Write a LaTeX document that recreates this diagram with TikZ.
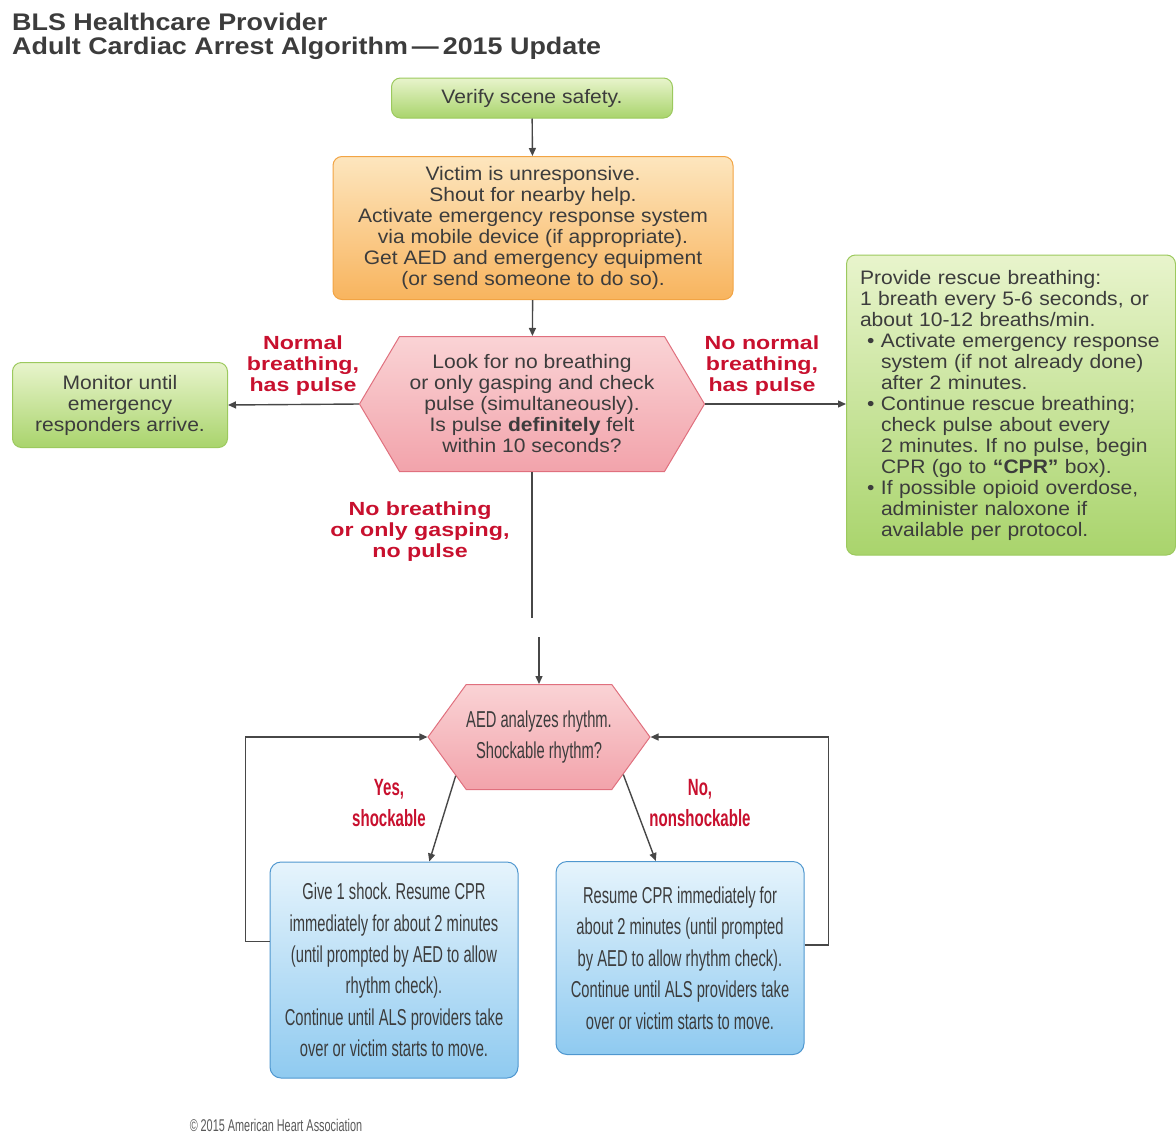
\documentclass[tikz,border=0pt]{standalone}
\usepackage{fontspec}
\setmainfont{Liberation Sans}
\newfontfamily\bodyfont[FakeStretch=1.08]{Liberation Sans}
\newfontfamily\titlefont[FakeStretch=1.12]{Liberation Sans}
\newfontfamily\redfont[FakeStretch=1.22]{Liberation Sans}
\newfontfamily\narrowfont[FakeStretch=0.64]{Liberation Sans}
\usetikzlibrary{arrows.meta, shapes.symbols}

\definecolor{greentop}{HTML}{E8F4CC}
\definecolor{greenbot}{HTML}{A9D46C}
\definecolor{greenline}{HTML}{9CC95E}
\definecolor{orangetop}{HTML}{FDE6BE}
\definecolor{orangebot}{HTML}{F8B45E}
\definecolor{orangeline}{HTML}{F2A444}
\definecolor{pinktop}{HTML}{FAD3D5}
\definecolor{pinkbot}{HTML}{F2A3AB}
\definecolor{pinkline}{HTML}{E0707E}
\definecolor{bluetop}{HTML}{E6F4FC}
\definecolor{bluebot}{HTML}{8FCAF0}
\definecolor{blueline}{HTML}{4F97CF}
\definecolor{redtext}{HTML}{C8102E}
\definecolor{textgray}{HTML}{3C3C3C}
\definecolor{arrowgray}{HTML}{474747}

\begin{document}
\frenchspacing
\begin{tikzpicture}[
        x=1pt, y=-1pt,
        >={Triangle[length=8pt, width=7pt]},
        flow/.style={->, draw=arrowgray, line width=1.4pt},
        plainline/.style={draw=arrowgray, line width=1.4pt},
        bodytext/.style={text=textgray, font=\bodyfont\fontsize{19.5}{21}\selectfont},
        narrowtext/.style={text=textgray, font=\narrowfont\fontsize{23}{31.4}\selectfont},
        greenbox/.style={bodytext, draw=greenline, line width=1pt, rounded corners=9pt,
            top color=greentop, bottom color=greenbot, align=center},
        orangebox/.style={bodytext, draw=orangeline, line width=1pt, rounded corners=9pt,
            top color=orangetop, bottom color=orangebot, align=center},
        bluebox/.style={narrowtext, draw=blueline, line width=1pt, rounded corners=11pt,
            top color=bluetop, bottom color=bluebot, align=center},
        hexbox/.style={signal, signal to=west and east, draw=pinkline, line width=1pt,
            top color=pinktop, bottom color=pinkbot, align=center, inner sep=0pt},
        redlabel/.style={text=redtext, align=center, font=\redfont\bfseries\fontsize{19}{21}\selectfont},
        rednarrow/.style={text=redtext, align=center, font=\narrowfont\bfseries\fontsize{23.5}{31}\selectfont},
        titletext/.style={anchor=west, inner sep=0pt, text=textgray, font=\titlefont\bfseries\fontsize{24}{26}\selectfont},
    ]
    \useasboundingbox (0,0) rectangle (1176,1133);

    \node[titletext] (title1) at (12,22) {BLS Healthcare Provider};
    \node[titletext] (title2) at (12,48) {Adult Cardiac Arrest Algorithm\,—\,2015 Update};

    \node[greenbox, minimum width=281pt, minimum height=40pt] (verify) at (532,98) {Verify scene safety.};

    \node[orangebox, minimum width=400pt, minimum height=143pt] (unresp) at (533,228)
        {Victim is unresponsive.\\
         Shout for nearby help.\\
         Activate emergency response system\\
         via mobile device (if appropriate).\\
         Get AED and emergency equipment\\
         (or send someone to do so).};

    \node[hexbox, bodytext, minimum width=345pt, minimum height=135pt, signal pointer angle=118.7] (check) at (532,404)
        {Look for no breathing\\
         or only gasping and check\\
         pulse (simultaneously).\\
         Is pulse \textbf{definitely} felt\\
         within 10 seconds?};

    \node[greenbox, minimum width=215pt, minimum height=85pt] (monitor) at (120,405)
        {Monitor until\\ emergency\\ responders arrive.};

    \node[greenbox, align=left, text width=302pt, inner xsep=13.5pt, minimum height=300pt] (rescue) at (1011,405)
        {Provide rescue breathing:\\
         1 breath every 5-6 seconds, or\\
         about 10-12 breaths/min.\\
         \makebox[21pt][l]{\hspace{7pt}\textbullet}Activate emergency response\\
         \hspace*{21pt}system (if not already done)\\
         \hspace*{21pt}after 2 minutes.\\
         \makebox[21pt][l]{\hspace{7pt}\textbullet}Continue rescue breathing;\\
         \hspace*{21pt}check pulse about every\\
         \hspace*{21pt}2 minutes. If no pulse, begin\\
         \hspace*{21pt}CPR (go to \textbf{“CPR”} box).\\
         \makebox[21pt][l]{\hspace{7pt}\textbullet}If possible opioid overdose,\\
         \hspace*{21pt}administer naloxone if\\
         \hspace*{21pt}available per protocol.};

    \node[redlabel] (lnormal) at (303,366) {Normal\\ breathing,\\ has pulse};
    \node[redlabel] (lnonormal) at (762,366) {No normal\\ breathing,\\ has pulse};
    \node[redlabel] (lnobreath) at (420,532) {No breathing\\ or only gasping,\\ no pulse};

    \node[hexbox, narrowtext, minimum width=220pt, minimum height=105pt, signal pointer angle=108] (aed) at (539,737)
        {AED analyzes rhythm.\\ Shockable rhythm?};

    \node[bluebox, minimum width=248pt, minimum height=216pt] (shock) at (394,970)
        {Give 1 shock. Resume CPR\\
         immediately for about 2 minutes\\
         (until prompted by AED to allow\\
         rhythm check).\\
         Continue until ALS providers take\\
         over or victim starts to move.};

    \node[bluebox, minimum width=248pt, minimum height=193pt] (resume) at (680,958)
        {Resume CPR immediately for\\
         about 2 minutes (until prompted\\
         by AED to allow rhythm check).\\
         Continue until ALS providers take\\
         over or victim starts to move.};

    \node[rednarrow] (lyes) at (389,803) {Yes,\\ shockable};
    \node[rednarrow] (lno) at (700,803) {No,\\ nonshockable};

    \node[text=textgray!85, font=\narrowfont\fontsize{17}{19}\selectfont] (copy) at (276,1125)
        {\textcopyright\,2015 American Heart Association};

    \coordinate (cutTop) at (532,618);
    \coordinate (cutBottom) at (539,637);

    \draw[flow] (verify) -- (unresp);
    \draw[flow] (unresp) -- (check);
    \draw[flow] (check.west) -- (monitor.east);
    \draw[flow] (check.east) -- (rescue.west |- check.east);
    \draw[plainline] (check.south) -- (cutTop);
    \draw[flow] (cutBottom) -- (aed.north);
    \draw[flow] (aed.205) -- (shock.72);
    \draw[flow] (aed.336) -- (resume.104);
    \draw[flow] (shock.167.7) -- ++(-24,0) |- (aed.west);
    \draw[flow] (resume.6.9) -- ++(24,0) |- (aed.east);
\end{tikzpicture}
\end{document}
